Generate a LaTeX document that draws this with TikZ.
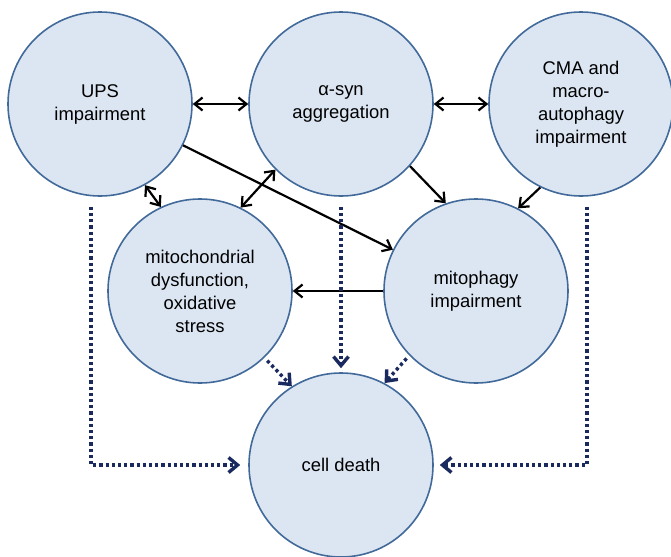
\documentclass[tikz,border=0pt]{standalone}
\usepackage{fontspec}
\setmainfont{Liberation Sans}
\usepackage{xcolor}
\usetikzlibrary{arrows.meta,calc}
\definecolor{bubblefill}{HTML}{DCE6F2}
\definecolor{bubbleline}{HTML}{41699A}
\definecolor{deathblue}{HTML}{1B2A5E}
\begin{document}
\begin{tikzpicture}[x=0.5pt,y=-0.5pt,
        >={Straight Barb[length=4pt,width=6.5pt]},
        bubble/.style={circle, draw=bubbleline, fill=bubblefill, line width=0.8pt,
            minimum size=92pt, inner sep=0pt, align=center,
            font=\fontsize{9.2}{11.5}\selectfont},
        link/.style={line width=1.1pt},
        deathlink/.style={draw=deathblue, line width=1.7pt,
            dash pattern=on 1.6pt off 1.5pt, shorten <=2pt,
            -{Straight Barb[length=4.5pt,width=7.5pt]}}]
        \useasboundingbox (0,0) rectangle (671,557);
        % coordinates
        \coordinate (pups) at (100,104);
        \coordinate (psyn) at (341,104);
        \coordinate (pcma) at (581,104);
        \coordinate (pmito) at (200,291);
        \coordinate (pphagy) at (476,291);
        \coordinate (pdeath) at (341,465);

        % bubbles
        \node[bubble] (ups) at (pups) {UPS\\impairment};
        \node[bubble] (syn) at (psyn) {α-syn\\aggregation};
        \node[bubble] (cma) at (pcma) {CMA and\\macro-\\autophagy\\impairment};
        \node[bubble] (mito) at (pmito) {mitochondrial\\dysfunction,\\oxidative\\stress};
        \node[bubble] (phagy) at (pphagy) {mitophagy\\impairment};
        \node[bubble] (death) at (pdeath) {cell death};

        % interactions
        \draw[link, <->] (ups) -- (syn);
        \draw[link, <->] (syn) -- (cma);
        \draw[link, <->] (ups.299) -- (mito.115);
        \draw[link, <->] (syn.225) -- (mito.64);
        \draw[link, ->] (ups) -- (phagy);
        \draw[link, ->] (syn.318) -- (phagy.109);
        \draw[link, ->] (cma.244) -- (phagy.63);
        \draw[link, ->] (phagy) -- (mito);

        % routes to cell death
        \draw[deathlink] ($(ups.south)+(-9,6)$) |- ([xshift=-4pt]death.west);
        \draw[deathlink] ($(cma.south)+(6,6)$) |- ([xshift=3pt]death.east);
        \draw[deathlink] ($(syn.south)+(0,6)$) -- ([yshift=2pt]death.north);
        \draw[deathlink] (mito.314) -- (death.122);
        \draw[deathlink] (phagy.224) -- (death.62);

    \end{tikzpicture}
\end{document}
